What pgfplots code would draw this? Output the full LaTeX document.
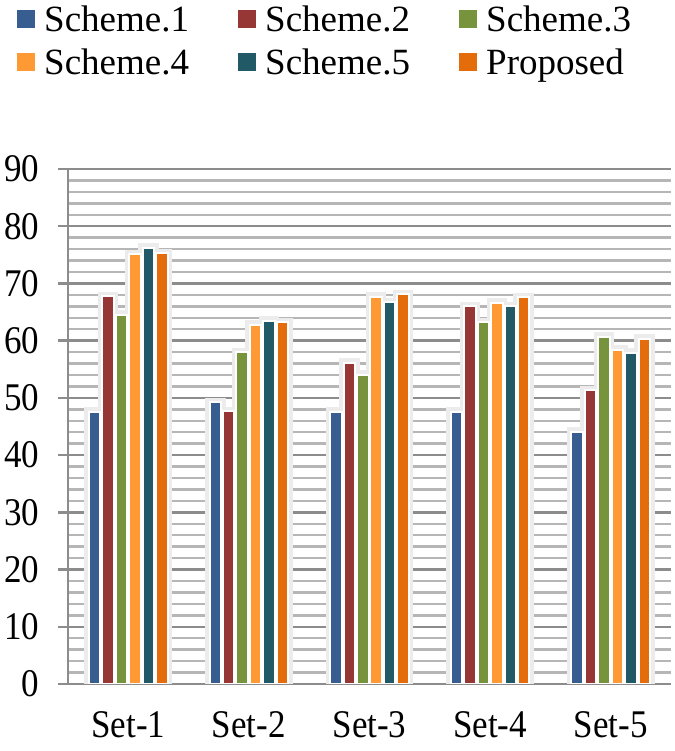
\documentclass[border=0pt]{standalone}
\usepackage{pgfplots}
\pgfplotsset{compat=1.18}
\usepackage{fontspec}
\setmainfont{Liberation Serif}
\newfontfamily\tnr{Liberation Serif}
\definecolor{c1}{RGB}{56,94,145}
\definecolor{c2}{RGB}{150,55,53}
\definecolor{c3}{RGB}{119,147,60}
\definecolor{c4}{RGB}{255,153,51}
\definecolor{c5}{RGB}{33,89,103}
\definecolor{c6}{RGB}{228,108,10}
\definecolor{majgrid}{RGB}{140,140,140}
\definecolor{mingrid}{RGB}{182,182,182}
\definecolor{halo}{RGB}{236,236,236}
\pgfplotstableread{
x s1 s2 s3 s4 s5 s6
0 47.6 67.8 64.5 75.1 76.2 75.3
1 49.2 47.7 58.0 62.8 63.5 63.2
2 47.6 56.1 54.0 67.7 66.7 68.1
3 47.6 66.0 63.2 66.6 66.0 67.6
4 44.1 51.3 60.7 58.4 57.9 60.3
}\datatable
\begin{document}
\begin{tikzpicture}
\useasboundingbox (0,0) rectangle (674pt,751pt);
\begin{axis}[
  at={(68pt,67pt)}, anchor=south west,
  scale only axis, width=603pt, height=515pt,
  xmin=-0.5, xmax=4.5, ymin=0, ymax=90,
  axis lines*=left,
  axis line style={majgrid, line width=2.5pt},
  xtick={0,1,2,3,4},
  xticklabels={Set-1,Set-2,Set-3,Set-4,Set-5},
  x tick style={draw=none},
  xticklabel style={yshift=-12pt},
  yticklabel style={xshift=-15pt},
  ytick={0,10,...,90}, minor y tick num=4,
  ymajorgrids, yminorgrids,
  major grid style={majgrid, line width=2.5pt},
  minor grid style={mingrid, line width=2.5pt},
  y tick style={majgrid, line width=2.5pt},
  tick align=outside, major tick length=10pt, minor tick length=0pt,
  /pgf/number format/assume math mode=true,
  tick label style={font=\tnr\fontsize{35}{40}\selectfont, yscale=1.12},
  legend columns=3,
  legend cell align=left,
  legend style={draw=none, fill=none, at={(-0.0846,1.318)}, anchor=north west,
    font=\tnr\fontsize{37}{40}\selectfont, inner sep=0pt, row sep=16pt,
    nodes={inner xsep=9pt, inner ysep=0pt}},
  legend image code/.code={\fill[#1,draw=none] (0pt,-9pt) rectangle (18pt,9pt);},
  halo/.style={ybar, bar width=11.5pt, fill=halo, draw=halo, line width=9pt, forget plot},
  realbar/.style={ybar, bar width=11.5pt, draw=white, line width=2pt},
]
% soft halo behind the bars
\addplot[halo, bar shift=-33.6pt] table[x=x,y=s1] {\datatable};
\addplot[halo, bar shift=-20.2pt] table[x=x,y=s2] {\datatable};
\addplot[halo, bar shift=-6.7pt]  table[x=x,y=s3] {\datatable};
\addplot[halo, bar shift=6.7pt]   table[x=x,y=s4] {\datatable};
\addplot[halo, bar shift=20.2pt]  table[x=x,y=s5] {\datatable};
\addplot[halo, bar shift=33.6pt]  table[x=x,y=s6] {\datatable};
% bars
\addplot[realbar, bar shift=-33.6pt, fill=c1] table[x=x,y=s1] {\datatable};
\addplot[realbar, bar shift=-20.2pt, fill=c2] table[x=x,y=s2] {\datatable};
\addplot[realbar, bar shift=-6.7pt,  fill=c3] table[x=x,y=s3] {\datatable};
\addplot[realbar, bar shift=6.7pt,   fill=c4] table[x=x,y=s4] {\datatable};
\addplot[realbar, bar shift=20.2pt,  fill=c5] table[x=x,y=s5] {\datatable};
\addplot[realbar, bar shift=33.6pt,  fill=c6] table[x=x,y=s6] {\datatable};
\legend{\makebox[185pt][l]{Scheme.1},\makebox[185pt][l]{Scheme.2},Scheme.3,
        \makebox[185pt][l]{Scheme.4},\makebox[185pt][l]{Scheme.5},Proposed}
\end{axis}
\end{tikzpicture}
\end{document}
